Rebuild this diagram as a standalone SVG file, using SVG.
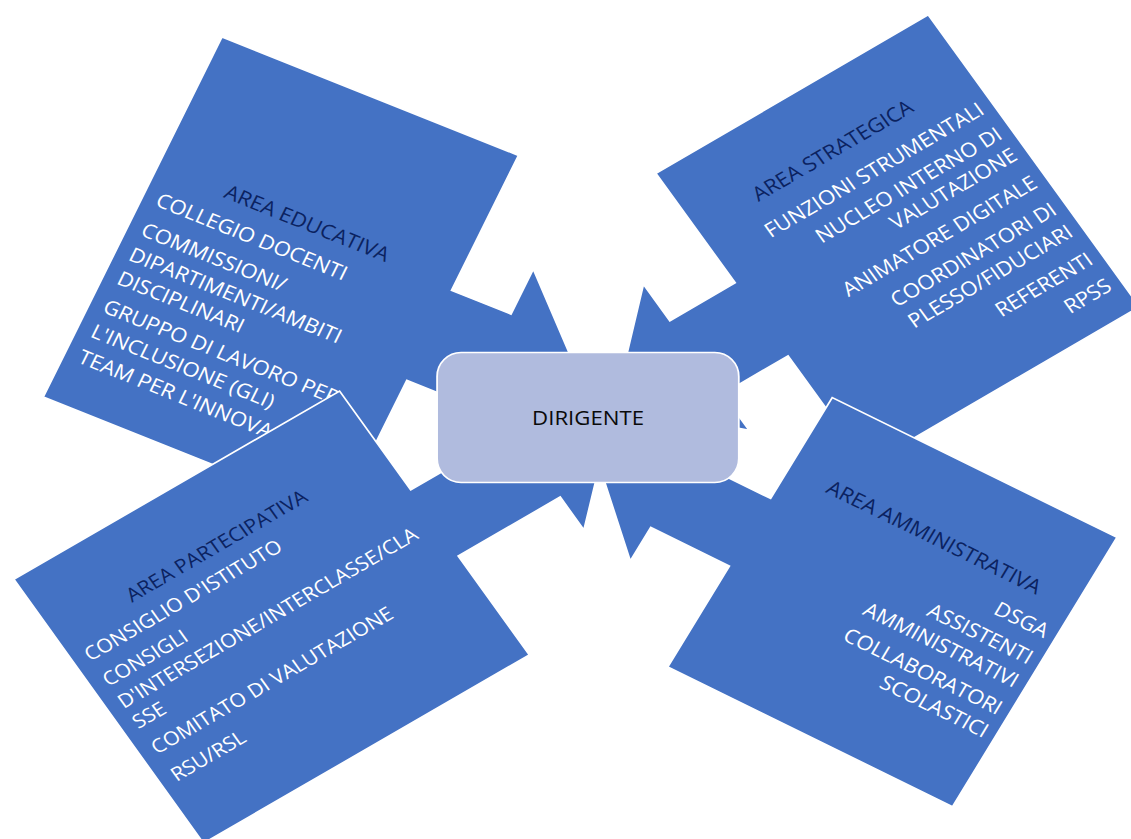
<svg xmlns="http://www.w3.org/2000/svg" width="1131" height="839" viewBox="0 0 1131 839">
<style>
.shape{fill:#4472C4;stroke:#FFFFFF;stroke-width:1.6}
.t{font-family:"Open Sans","Liberation Sans",sans-serif;font-size:19.9px;fill:#FFFFFF}
.s{font-size:19.2px}
.title{fill:#0B2260}
.c{text-anchor:middle}
.r{text-anchor:end}
.center{fill:#B0BBDE;stroke:#FFFFFF;stroke-width:1.6}
.ct{font-family:"Open Sans","Liberation Sans",sans-serif;font-size:19.9px;fill:#0A0A0A;text-anchor:middle}
</style>
<rect width="1131" height="839" fill="#FFFFFF"/>
<g transform="scale(1.115,1)">
  <g id="educativa">
    <path class="shape" transform="translate(199.1,37) rotate(24)" d="M0,0H291.1V147.75H349.5V98.5L448,197L349.5,295.5V246.25H291.1V394H0Z"/>
    <g class="t" transform="translate(199.1,37) rotate(24)">
      <text class="title c" x="145.5" y="146">AREA EDUCATIVA</text>
      <text x="13" y="178.5">COLLEGIO DOCENTI</text>
      <text x="13" y="211">COMMISSIONI/</text>
      <text x="13" y="238">DIPARTIMENTI/AMBITI</text>
      <text x="13" y="264">DISCIPLINARI</text>
      <text x="13" y="295">GRUPPO DI LAVORO PER</text>
      <text x="13" y="322">L'INCLUSIONE (GLI)</text>
      <text x="13" y="350">TEAM PER L'INNOVA</text>
    </g>
  </g>
  <g id="strategica">
    <path class="shape" transform="translate(1022,306.7) rotate(147)" d="M0,0H291.1V130.5H361V87L448,174L361,261V217.5H291.1V348H0Z"/>
    <g class="t" transform="translate(588.2,173.5) rotate(-33)">
      <text class="title c" x="145.5" y="74">AREA STRATEGICA</text>
      <text class="r" x="281" y="110.5">FUNZIONI STRUMENTALI</text>
      <text class="r" x="281" y="140">NUCLEO INTERNO DI</text>
      <text class="r" x="281" y="165">VALUTAZIONE</text>
      <text class="r" x="281" y="198">ANIMATORE DIGITALE</text>
      <text class="r" x="281" y="230">COORDINATORI DI</text>
      <text class="r" x="281" y="256.5">PLESSO/FIDUCIARI</text>
      <text class="r" x="281" y="289.5">REFERENTI</text>
      <text class="r" x="281" y="320.5">RPSS</text>
    </g>
  </g>
  <g id="partecipativa">
    <path class="shape" transform="translate(12.4,579.3) rotate(-32.8)" d="M0,0H347.6V117.75H456.5V78.5L535,157L456.5,235.5V196.25H347.6V314H0Z"/>
    <g class="t s" transform="translate(12.4,579.3) rotate(-32.8)">
      <text class="title c" x="171" y="77">AREA PARTECIPATIVA</text>
      <text x="13" y="106.5">CONSIGLIO D'ISTITUTO</text>
      <text x="13" y="136.5">CONSIGLI</text>
      <text x="12.5" y="162.5">D'INTERSEZIONE/INTERCLASSE/CLA</text>
      <text x="12.5" y="186.5">SSE</text>
      <text x="13" y="217">COMITATO DI VALUTAZIONE</text>
      <text x="13" y="249.5">RSU/RSL</text>
    </g>
  </g>
  <g id="amministrativa">
    <path class="shape" transform="translate(854.3,806.7) rotate(208.7)" d="M0,0H291.1V115H371.5V76.75L448,153.5L371.5,230.25V192H291.1V307H0Z"/>
    <g class="t" transform="translate(747.6,399.5) rotate(28.5)">
      <text class="title c" x="145" y="85">AREA AMMINISTRATIVA</text>
      <text class="r" x="279.5" y="120">DSGA</text>
      <text class="r" x="279.5" y="150">ASSISTENTI</text>
      <text class="r" x="279.5" y="176.5">AMMINISTRATIVI</text>
      <text class="r" x="279.5" y="207.5">COLLABORATORI</text>
      <text class="r" x="279.5" y="233.5">SCOLASTICI</text>
    </g>
  </g>
  <g id="dirigente">
    <rect class="center" x="392" y="352.5" width="270.6" height="130" rx="21.5" ry="24"/>
    <text class="ct" x="527.4" y="425">DIRIGENTE</text>
  </g>
  <g id="connectors"/>
</g>
</svg>
